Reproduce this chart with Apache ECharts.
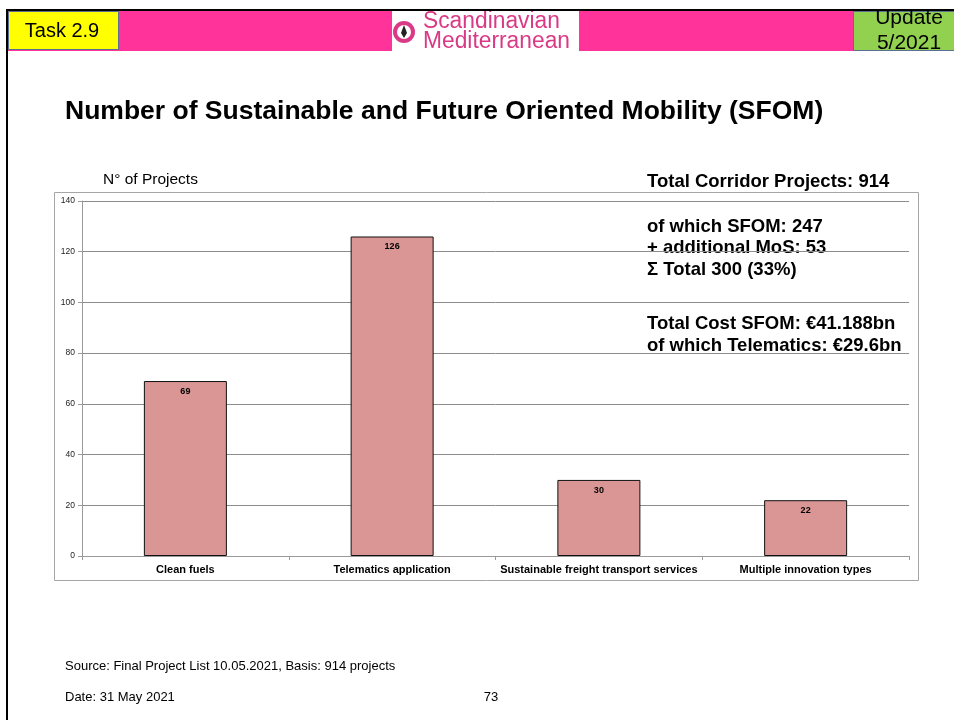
<!DOCTYPE html>
<html>
<head>
<meta charset="utf-8">
<title>Number of Sustainable and Future Oriented Mobility (SFOM)</title>
<script src="https://cdn.jsdelivr.net/npm/echarts@6/dist/echarts.min.js"></script>
<style>
  html, body { margin: 0; padding: 0; background: #ffffff; }
  #chart { width: 954px; height: 720px; }
</style>
</head>
<body>
<div id="chart"></div>
<script>
// Project categories and counts
const categories = ['Clean fuels', 'Telematics application', 'Sustainable freight transport services', 'Multiple innovation types'];
const projectCounts = [69, 126, 30, 22];
const yTicks = [0, 20, 40, 60, 80, 100, 120, 140];

// Side notes and page texts
const pageTitle = 'Number of Sustainable and Future Oriented Mobility (SFOM)';
const axisName = 'N° of Projects';
const totalNote = 'Total Corridor Projects: 914';
const shareNotes = ['of which SFOM: 247', '+ additional MoS: 53', 'Σ Total 300 (33%)'];
const costNotes = ['Total Cost SFOM: €41.188bn', 'of which Telematics: €29.6bn'];
const sourceText = 'Source: Final Project List 10.05.2021, Basis: 914 projects';
const dateText = 'Date: 31 May 2021';
const pageNumber = '73';

const FONT = '"Liberation Sans", Arial, sans-serif';

const chart = echarts.init(document.getElementById('chart'), null, { renderer: 'canvas' });

const graphics = [
  // chart frame
  { type: 'rect', z: -10, shape: { x: 54.5, y: 192.5, width: 864, height: 388 },
    style: { fill: '#ffffff', stroke: '#a6a6a6', lineWidth: 1 } },
  // header band
  { type: 'rect', shape: { x: 7, y: 10, width: 947, height: 41 }, style: { fill: '#FF3399' } },
  { type: 'rect', shape: { x: 8.5, y: 11.5, width: 110, height: 38 },
    style: { fill: '#FFFF00', stroke: '#5a7090', lineWidth: 1 } },
  { type: 'text', style: { x: 62, y: 31, text: 'Task 2.9', font: '20px ' + FONT, fill: '#000',
    align: 'center', verticalAlign: 'middle' } },
  { type: 'rect', shape: { x: 853.5, y: 11.5, width: 102, height: 39 },
    style: { fill: '#92D050', stroke: '#5a7090', lineWidth: 1 } },
  { type: 'text', style: { x: 909, y: 18, text: 'Update', font: '21px ' + FONT, fill: '#000',
    align: 'center', verticalAlign: 'middle' } },
  { type: 'text', style: { x: 909, y: 43, text: '5/2021', font: '21px ' + FONT, fill: '#000',
    align: 'center', verticalAlign: 'middle' } },
  // logo
  { type: 'rect', shape: { x: 392, y: 11, width: 187, height: 41 }, style: { fill: '#ffffff' } },
  { type: 'circle', shape: { cx: 404, cy: 32, r: 11 }, style: { fill: '#D93A86' } },
  { type: 'circle', shape: { cx: 404, cy: 32, r: 7 }, style: { fill: '#ffffff' } },
  { type: 'polygon', shape: { points: [[404, 25], [407, 33], [404, 38], [401, 33]] }, style: { fill: '#222' } },
  { type: 'text', x: 423, y: 22, scaleX: 0.97,
    style: { x: 0, y: 0, text: 'Scandinavian', font: '23.5px ' + FONT, fill: '#D93A86', verticalAlign: 'middle' } },
  { type: 'text', x: 423, y: 42, scaleX: 0.97,
    style: { x: 0, y: 0, text: 'Mediterranean', font: '23.5px ' + FONT, fill: '#D93A86', verticalAlign: 'middle' } },
  // page borders
  { type: 'rect', shape: { x: 6, y: 9, width: 948, height: 2 }, style: { fill: '#000' } },
  { type: 'rect', shape: { x: 6, y: 9, width: 2, height: 711 }, style: { fill: '#000' } },
  // title
  { type: 'text', style: { x: 65, y: 112, text: pageTitle, font: 'bold 26.5px ' + FONT, fill: '#000',
    verticalAlign: 'middle' } },
  { type: 'text', style: { x: 103, y: 180, text: axisName, font: '15.5px ' + FONT, fill: '#000',
    verticalAlign: 'middle' } },
  { type: 'text', style: { x: 647, y: 182, text: totalNote, font: 'bold 18.5px ' + FONT, fill: '#000',
    verticalAlign: 'middle' } },
  { type: 'text', style: { x: 647, y: 248, text: shareNotes.join('\n'), font: 'bold 18.5px ' + FONT,
    fill: '#000', lineHeight: 21.5, verticalAlign: 'middle' } },
  { type: 'text', style: { x: 647, y: 335, text: costNotes.join('\n'), font: 'bold 18.5px ' + FONT,
    fill: '#000', lineHeight: 21.5, verticalAlign: 'middle' } },
  // footer
  { type: 'text', style: { x: 65, y: 666, text: sourceText, font: '13px ' + FONT, fill: '#000',
    verticalAlign: 'middle' } },
  { type: 'text', style: { x: 65, y: 697, text: dateText, font: '13px ' + FONT, fill: '#000',
    verticalAlign: 'middle' } },
  { type: 'text', style: { x: 491, y: 697, text: pageNumber, font: '13px ' + FONT, fill: '#000',
    align: 'center', verticalAlign: 'middle' } }
];

chart.setOption({
  animation: false,
  backgroundColor: '#ffffff',
  grid: { left: 82, right: 45, top: 201, bottom: 164, containLabel: false },
  xAxis: {
    type: 'category',
    data: categories,
    boundaryGap: true,
    axisLine: { show: true, lineStyle: { color: '#9a9a9a', width: 1 } },
    axisTick: { show: true, length: 4, inside: false, lineStyle: { color: '#9a9a9a' } },
    axisLabel: { color: '#000', fontFamily: FONT, fontWeight: 'bold', fontSize: 11, margin: 8, interval: 0 },
    splitLine: { show: false }
  },
  yAxis: {
    type: 'value',
    min: yTicks[0],
    max: yTicks[yTicks.length - 1],
    interval: yTicks[1] - yTicks[0],
    axisLine: { show: true, lineStyle: { color: '#9a9a9a', width: 1 } },
    axisTick: { show: true, length: 4, lineStyle: { color: '#9a9a9a' } },
    axisLabel: { color: '#222', fontFamily: FONT, fontSize: 8.5, margin: 7 },
    splitLine: { show: true, lineStyle: { color: '#8c8c8c', width: 1 } }
  },
  series: [{
    type: 'bar',
    data: projectCounts,
    barWidth: 83,
    itemStyle: { color: '#D99694', borderColor: '#111', borderWidth: 1 },
    label: {
      show: true, position: 'insideTop', distance: 6,
      color: '#000', fontFamily: FONT, fontWeight: 'bold', fontSize: 9
    }
  }],
  graphic: graphics
});
</script>
</body>
</html>
